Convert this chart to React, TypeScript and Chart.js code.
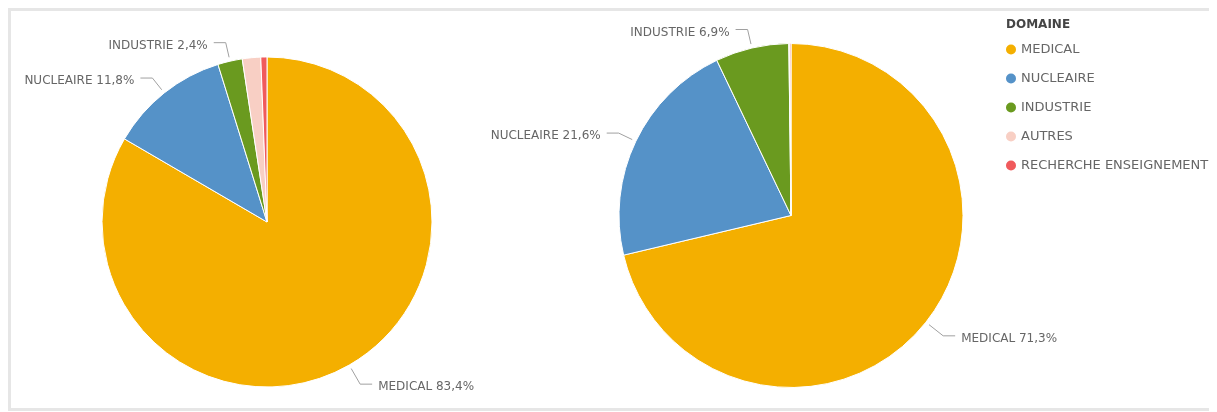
import React, { useEffect, useRef } from "react";
import { Chart, registerables } from "chart.js";

Chart.register(...registerables);

const categories = ["MEDICAL", "NUCLEAIRE", "INDUSTRIE", "AUTRES", "RECHERCHE ENSEIGNEMENT"];
const leftValues = [83.4, 11.8, 2.4, 1.8, 0.6];
const rightValues = [71.3, 21.6, 6.9, 0.1, 0.1];
const colors = ["#f4af00", "#5592c8", "#6a9a1f", "#f8cfc4", "#f05a5c"];
const legendTitle = "DOMAINE";

const FONT = "'DejaVu Sans', sans-serif";

const labelPlugin = {
  id: "outLabels",
  afterDatasetsDraw(chart: any) {
    const ctx = chart.ctx;
    const meta = chart.getDatasetMeta(0);
    const values = chart.data.datasets[0].data as number[];
    ctx.save();
    meta.data.forEach((arc: any, i: number) => {
      const v = values[i];
      if (v < 2) return;
      const { x, y, startAngle, endAngle, outerRadius } = arc.getProps(
        ["x", "y", "startAngle", "endAngle", "outerRadius"],
        true
      );
      const mid = (startAngle + endAngle) / 2;
      const c = Math.cos(mid);
      const s = Math.sin(mid);
      const extra = s > 0.3 ? 22 : 19;
      const p0x = x + c * (outerRadius + 4);
      const p0y = y + s * (outerRadius + 4);
      const p1x = x + c * (outerRadius + extra);
      const p1y = y + s * (outerRadius + extra);
      const dir = c < 0 ? -1 : 1;
      const p2x = p1x + dir * 12;
      ctx.strokeStyle = "#a0a0a0";
      ctx.lineWidth = 1;
      ctx.beginPath();
      ctx.moveTo(p0x, p0y);
      ctx.lineTo(p1x, p1y);
      ctx.lineTo(p2x, p1y);
      ctx.stroke();
      ctx.fillStyle = "#666666";
      ctx.font = `12px ${FONT}`;
      ctx.textBaseline = "middle";
      ctx.textAlign = dir < 0 ? "right" : "left";
      const txt = `${chart.data.labels[i]} ${v.toFixed(1).replace(".", ",")}%`;
      ctx.fillText(txt, p2x + dir * 6, p1y + 3);
    });
    ctx.restore();
  },
};

const legendPlugin = {
  id: "sideLegend",
  afterDraw(chart: any) {
    const ctx = chart.ctx;
    const x0 = 575;
    ctx.save();
    ctx.textBaseline = "middle";
    ctx.textAlign = "left";
    ctx.fillStyle = "#454545";
    ctx.font = `bold 12px ${FONT}`;
    ctx.fillText(legendTitle, x0 + 1, 13.5);
    const labels = chart.data.labels as string[];
    const bg = chart.data.datasets[0].backgroundColor as string[];
    labels.forEach((lab, i) => {
      const yy = 38.5 + i * 29;
      ctx.fillStyle = bg[i];
      ctx.beginPath();
      ctx.arc(x0 + 6, yy, 5, 0, Math.PI * 2);
      ctx.fill();
      ctx.fillStyle = "#666666";
      ctx.font = `13px ${FONT}`;
      ctx.fillText(lab, x0 + 16, yy);
    });
    ctx.restore();
  },
};

function makeConfig(values: number[], radius: number, padding: any, withLegend: boolean) {
  return {
    type: "pie" as const,
    data: {
      labels: categories,
      datasets: [
        {
          data: values,
          backgroundColor: colors,
          borderColor: "#ffffff",
          borderWidth: 1,
        },
      ],
    },
    options: {
      responsive: false,
      animation: false as const,
      radius,
      layout: { padding },
      plugins: {
        legend: { display: false },
        tooltip: { enabled: false },
      },
    },
    plugins: withLegend ? [labelPlugin, legendPlugin] : [labelPlugin],
  };
}

export default function App() {
  const leftRef = useRef<HTMLCanvasElement>(null);
  const rightRef = useRef<HTMLCanvasElement>(null);

  useEffect(() => {
    const c1 = new Chart(
      leftRef.current as HTMLCanvasElement,
      makeConfig(leftValues, 165, { top: 25, bottom: 0, left: 0, right: 0 }, false) as any
    );
    const c2 = new Chart(
      rightRef.current as HTMLCanvasElement,
      makeConfig(rightValues, 172, { top: 12, bottom: 0, left: 93, right: 158 }, true) as any
    );
    return () => {
      c1.destroy();
      c2.destroy();
    };
  }, []);

  return (
    <div
      style={{
        position: "relative",
        width: 1209,
        height: 403,
        boxSizing: "border-box",
        borderTop: "3px solid #e6e6e6",
        borderLeft: "3px solid #e6e6e6",
        borderBottom: "3px solid #e6e6e6",
        background: "#ffffff",
      }}
    >
      <canvas
        ref={leftRef}
        width={512}
        height={397}
        style={{ position: "absolute", left: 0, top: 0, width: 512, height: 397 }}
      />
      <canvas
        ref={rightRef}
        width={787}
        height={397}
        style={{ position: "absolute", left: 419, top: 0, width: 787, height: 397 }}
      />
    </div>
  );
}
